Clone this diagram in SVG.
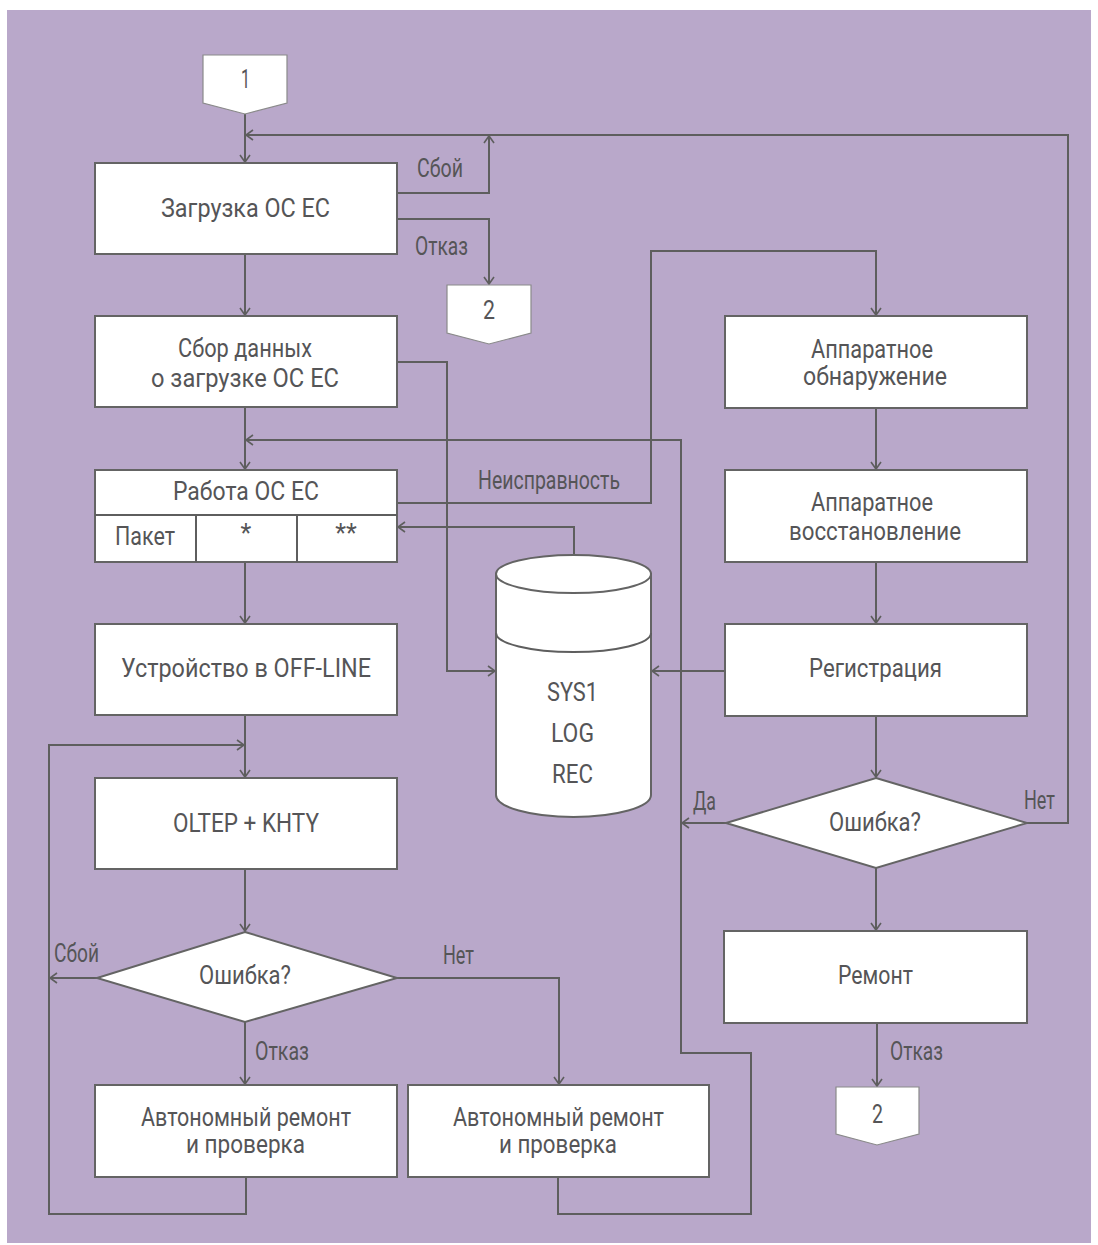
<svg xmlns="http://www.w3.org/2000/svg" width="1098" height="1245" viewBox="0 0 1098 1245">
<defs>
<marker id="ah" markerUnits="userSpaceOnUse" markerWidth="14" markerHeight="14" viewBox="-10 -7 14 14" refX="0" refY="0" orient="auto" overflow="visible">
<path d="M-7,-5 L0,0 L-7,5" fill="none" stroke="#5e5e5e" stroke-width="1.6"/>
</marker>
<style>
.bx{fill:#ffffff;stroke:#646464;stroke-width:2}
.pg{fill:#ffffff;stroke:#8a8a8a;stroke-width:1.2}
.cn{fill:none;stroke:#5e5e5e;stroke-width:2}
.ca{fill:none;stroke:#5e5e5e;stroke-width:2;marker-end:url(#ah)}
text{font-family:Roboto,"Liberation Sans",sans-serif;fill:#555557;font-size:25px}
.l{font-size:25px}
</style>
</defs>
<rect x="0" y="0" width="1098" height="1245" fill="#ffffff"/>
<rect x="7" y="10" width="1084" height="1233" fill="#b9a8ca"/>

<g id="connectors">
<path class="ca" d="M245,114 L245,162"/>
<path class="ca" d="M1027,823 L1068,823 L1068,135 L246,135"/>
<path class="ca" d="M397,193 L489,193 L489,136"/>
<path class="ca" d="M397,219 L489,219 L489,284"/>
<path class="ca" d="M245,254 L245,315"/>
<path class="ca" d="M245,407 L245,469"/>
<path class="ca" d="M397,362 L447,362 L447,671 L495,671"/>
<path class="ca" d="M558,1177 L558,1214 L751,1214 L751,1053 L681,1053 L681,440 L246,440"/>
<path class="ca" d="M726,823 L682,823"/>
<path class="ca" d="M397,503 L651,503 L651,251 L876,251 L876,315"/>
<path class="ca" d="M574,556 L574,527 L398,527"/>
<path class="ca" d="M245,562 L245,623"/>
<path class="ca" d="M245,715 L245,777"/>
<path class="ca" d="M246,1177 L246,1214 L49,1214 L49,745 L244,745"/>
<path class="ca" d="M97,978 L50,978"/>
<path class="ca" d="M245,869 L245,931"/>
<path class="ca" d="M245,1022 L245,1084"/>
<path class="ca" d="M397,978 L559,978 L559,1084"/>
<path class="ca" d="M876,408 L876,469"/>
<path class="ca" d="M876,562 L876,623"/>
<path class="ca" d="M725,671 L652,671"/>
<path class="ca" d="M876,716 L876,777"/>
<path class="ca" d="M876,868 L876,930"/>
<path class="ca" d="M877,1023 L877,1086"/>
<text class="l" x="417" y="177" textLength="46" lengthAdjust="spacingAndGlyphs">Сбой</text>
<text class="l" x="415" y="255" textLength="53" lengthAdjust="spacingAndGlyphs">Отказ</text>
<text class="l" x="478" y="489" textLength="142" lengthAdjust="spacingAndGlyphs">Неисправность</text>
<text class="l" x="693" y="810" textLength="23" lengthAdjust="spacingAndGlyphs">Да</text>
<text class="l" x="1024" y="809" textLength="31" lengthAdjust="spacingAndGlyphs">Нет</text>
<text class="l" x="54" y="962" textLength="45" lengthAdjust="spacingAndGlyphs">Сбой</text>
<text class="l" x="443" y="964" textLength="31" lengthAdjust="spacingAndGlyphs">Нет</text>
<text class="l" x="255" y="1060" textLength="54" lengthAdjust="spacingAndGlyphs">Отказ</text>
<text class="l" x="890" y="1060" textLength="53" lengthAdjust="spacingAndGlyphs">Отказ</text>
</g>

<g id="start1">
<polygon class="pg" points="203,55 287,55 287,103 245,114 203,103"/>
<text x="241" y="88" textLength="9" lengthAdjust="spacingAndGlyphs">1</text>
</g>
<g id="end2a">
<polygon class="pg" points="447,285 531,285 531,333 489,344 447,333"/>
<text x="483" y="319" textLength="12" lengthAdjust="spacingAndGlyphs">2</text>
</g>
<g id="end2b">
<polygon class="pg" points="836,1087 919,1087 919,1134 877,1145 836,1134"/>
<text x="872" y="1123" textLength="11" lengthAdjust="spacingAndGlyphs">2</text>
</g>

<g id="zagruzka">
<rect class="bx" x="95" y="163" width="302" height="91"/>
<text x="161" y="217" textLength="169" lengthAdjust="spacingAndGlyphs">Загрузка ОС ЕС</text>
</g>
<g id="sbor">
<rect class="bx" x="95" y="316" width="302" height="91"/>
<text x="178" y="357" textLength="134" lengthAdjust="spacingAndGlyphs">Сбор данных</text>
<text x="151" y="387" textLength="188" lengthAdjust="spacingAndGlyphs">о загрузке ОС ЕС</text>
</g>
<g id="rabota">
<rect class="bx" x="95" y="470" width="302" height="92"/>
<line class="cn" x1="95" y1="515" x2="397" y2="515" stroke="#646464"/>
<line class="cn" x1="196" y1="515" x2="196" y2="562" stroke="#646464"/>
<line class="cn" x1="297" y1="515" x2="297" y2="562" stroke="#646464"/>
<text x="173" y="500" textLength="146" lengthAdjust="spacingAndGlyphs">Работа ОС ЕС</text>
<text x="115" y="545" textLength="60" lengthAdjust="spacingAndGlyphs">Пакет</text>
<text x="246" y="542" text-anchor="middle" font-size="16">*</text>
<text x="346" y="542" text-anchor="middle" font-size="16">**</text>
</g>
<g id="ustroystvo">
<rect class="bx" x="95" y="624" width="302" height="91"/>
<text x="121" y="677" textLength="250" lengthAdjust="spacingAndGlyphs">Устройство в OFF-LINE</text>
</g>
<g id="oltep">
<rect class="bx" x="95" y="778" width="302" height="91"/>
<text x="173" y="832" textLength="146" lengthAdjust="spacingAndGlyphs">OLTEP + KHTY</text>
</g>
<g id="oshibka1">
<polygon class="bx" points="245,932 397,978 245,1022 97,978"/>
<text x="199" y="984" textLength="92" lengthAdjust="spacingAndGlyphs">Ошибка?</text>
</g>
<g id="avtonom1">
<rect class="bx" x="95" y="1085" width="302" height="92"/>
<text x="141" y="1126" textLength="210" lengthAdjust="spacingAndGlyphs">Автономный ремонт</text>
<text x="186" y="1153" textLength="119" lengthAdjust="spacingAndGlyphs">и проверка</text>
</g>
<g id="avtonom2">
<rect class="bx" x="408" y="1085" width="301" height="92"/>
<text x="453" y="1126" textLength="211" lengthAdjust="spacingAndGlyphs">Автономный ремонт</text>
<text x="499" y="1153" textLength="118" lengthAdjust="spacingAndGlyphs">и проверка</text>
</g>
<g id="sys1log">
<path class="bx" d="M496,574 L496,795 A77.5,22 0 0 0 651,795 L651,574 Z"/>
<ellipse class="bx" cx="573.5" cy="574" rx="77.5" ry="19"/>
<path class="cn" d="M496,633 A77.5,19 0 0 0 651,633" stroke="#646464"/>
<text x="547" y="701" textLength="51" lengthAdjust="spacingAndGlyphs">SYS1</text>
<text x="551" y="742" textLength="43" lengthAdjust="spacingAndGlyphs">LOG</text>
<text x="552" y="783" textLength="41" lengthAdjust="spacingAndGlyphs">REC</text>
</g>
<g id="obnaruzhenie">
<rect class="bx" x="725" y="316" width="302" height="92"/>
<text x="811" y="358" textLength="122" lengthAdjust="spacingAndGlyphs">Аппаратное</text>
<text x="803" y="385" textLength="144" lengthAdjust="spacingAndGlyphs">обнаружение</text>
</g>
<g id="vosstanovlenie">
<rect class="bx" x="725" y="470" width="302" height="92"/>
<text x="811" y="511" textLength="122" lengthAdjust="spacingAndGlyphs">Аппаратное</text>
<text x="789" y="540" textLength="172" lengthAdjust="spacingAndGlyphs">восстановление</text>
</g>
<g id="registraciya">
<rect class="bx" x="725" y="624" width="302" height="92"/>
<text x="809" y="677" textLength="133" lengthAdjust="spacingAndGlyphs">Регистрация</text>
</g>
<g id="oshibka2">
<polygon class="bx" points="876,778 1027,823 876,868 726,823"/>
<text x="829" y="831" textLength="92" lengthAdjust="spacingAndGlyphs">Ошибка?</text>
</g>
<g id="remont">
<rect class="bx" x="724" y="931" width="303" height="92"/>
<text x="838" y="984" textLength="75" lengthAdjust="spacingAndGlyphs">Ремонт</text>
</g>
</svg>
